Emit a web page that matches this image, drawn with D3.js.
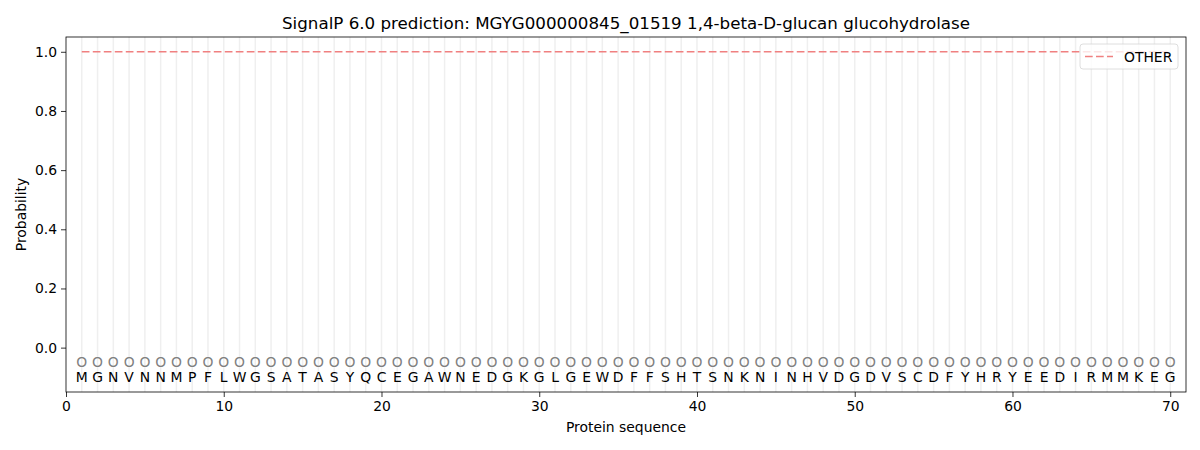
<!DOCTYPE html>
<html>
<head>
<meta charset="utf-8">
<script src="https://cdn.jsdelivr.net/npm/d3@7"></script>
<style>
  body { margin: 0; background: #fff; }
  svg { font-family: "DejaVu Sans", sans-serif; }
</style>
</head>
<body>
<script>
// donnees
const residues = ["M","G","N","V","N","N","M","P","F","L","W","G","S","A","T","A","S","Y","Q","C",
                  "E","G","A","W","N","E","D","G","K","G","L","G","E","W","D","F","F","S","H","T",
                  "S","N","K","N","I","N","H","V","D","G","D","V","S","C","D","F","Y","H","R","Y",
                  "E","E","D","I","R","M","M","K","E","G"];
const labels = ["O","O","O","O","O","O","O","O","O","O","O","O","O","O","O","O","O","O","O","O",
                "O","O","O","O","O","O","O","O","O","O","O","O","O","O","O","O","O","O","O","O",
                "O","O","O","O","O","O","O","O","O","O","O","O","O","O","O","O","O","O","O","O",
                "O","O","O","O","O","O","O","O","O","O"];
const otherProb = [1,1,1,1,1,1,1,1,1,1,1,1,1,1,1,1,1,1,1,1,
                   1,1,1,1,1,1,1,1,1,1,1,1,1,1,1,1,1,1,1,1,
                   1,1,1,1,1,1,1,1,1,1,1,1,1,1,1,1,1,1,1,1,
                   1,1,1,1,1,1,1,1,1,1];
const xTicks = [0, 10, 20, 30, 40, 50, 60, 70];
const yTicks = [0.0, 0.2, 0.4, 0.6, 0.8, 1.0];

// dimensions
const margin = {top: 37, right: 14, bottom: 58, left: 66};
const W = 1200, H = 450;
const width = W - margin.left - margin.right;
const height = H - margin.top - margin.bottom;

const svg = d3.select("body").append("svg")
    .attr("width", W)
    .attr("height", H);

const g = svg.append("g")
    .attr("transform", `translate(${margin.left}, ${margin.top})`);

const x = d3.scaleLinear().domain([0, 71]).range([0, width]);
const y = d3.scaleLinear().domain([-0.15, 1.05]).range([height, 0]);

const pos = residues.map((r, i) => i + 1);

// grille verticale
g.selectAll("line.grid")
  .data(pos)
  .join("line")
    .attr("class", "grid")
    .attr("x1", d => x(d)).attr("x2", d => x(d))
    .attr("y1", 0).attr("y2", height)
    .attr("stroke", "#efefef")
    .attr("stroke-width", 1.5);

// ligne OTHER
const line = d3.line()
    .x((d, i) => x(i + 1))
    .y(d => y(d));

g.append("path")
    .attr("d", line(otherProb))
    .attr("fill", "none")
    .attr("stroke", "#f08080")
    .attr("stroke-width", 1.5)
    .attr("stroke-dasharray", "7.7,3.3");

// etiquettes O
g.selectAll("text.lab")
  .data(labels)
  .join("text")
    .attr("class", "lab")
    .attr("x", (d, i) => x(i + 1))
    .attr("y", y(-0.047))
    .attr("text-anchor", "middle")
    .attr("dominant-baseline", "central")
    .attr("fill", "#808080")
    .style("font-size", "13.9px")
    .text(d => d);

// acides amines
g.selectAll("text.res")
  .data(residues)
  .join("text")
    .attr("class", "res")
    .attr("x", (d, i) => x(i + 1))
    .attr("y", y(-0.098))
    .attr("text-anchor", "middle")
    .attr("dominant-baseline", "central")
    .attr("fill", "#000")
    .style("font-size", "13.9px")
    .text(d => d);

// axes
const axeX = d3.axisBottom(x).tickValues(xTicks).tickFormat(d3.format("d")).tickSize(5).tickPadding(4);
const axeY = d3.axisLeft(y).tickValues(yTicks).tickFormat(d3.format(".1f")).tickSize(5).tickPadding(4);

const gx = g.append("g").attr("transform", `translate(0, ${height})`).call(axeX);
const gy = g.append("g").call(axeY);
[gx, gy].forEach(a => {
  a.select(".domain").remove();
  a.selectAll("text").style("font-size", "13.9px").style("font-family", "DejaVu Sans").attr("fill", "#000");
  a.selectAll("line").attr("stroke", "#000").attr("stroke-width", 0.8);
});

// cadre
g.append("rect")
    .attr("width", width).attr("height", height)
    .attr("fill", "none").attr("stroke", "#000").attr("stroke-width", 0.8);

// titres
svg.append("text")
    .attr("x", margin.left + width / 2).attr("y", 29)
    .attr("text-anchor", "middle")
    .style("font-size", "16.7px")
    .text("SignalP 6.0 prediction: MGYG000000845_01519 1,4-beta-D-glucan glucohydrolase");

svg.append("text")
    .attr("x", margin.left + width / 2).attr("y", 432)
    .attr("text-anchor", "middle")
    .style("font-size", "13.9px")
    .text("Protein sequence");

svg.append("text")
    .attr("transform", `translate(26, ${margin.top + height / 2}) rotate(-90)`)
    .attr("text-anchor", "middle")
    .style("font-size", "13.9px")
    .text("Probability");

// legende
const leg = g.append("g").attr("transform", `translate(${width - 106}, 7)`);
leg.append("rect")
    .attr("width", 98).attr("height", 25).attr("rx", 3)
    .attr("fill", "#fff").attr("fill-opacity", 0.8)
    .attr("stroke", "#d5d5d5").attr("stroke-width", 0.8);
leg.append("line")
    .attr("x1", 5).attr("x2", 33).attr("y1", 12.5).attr("y2", 12.5)
    .attr("stroke", "#f08080").attr("stroke-width", 1.5)
    .attr("stroke-dasharray", "7.7,3.3");
leg.append("text")
    .attr("x", 44).attr("y", 12.5)
    .attr("dominant-baseline", "central")
    .style("font-size", "13.9px")
    .text("OTHER");
</script>
</body>
</html>
